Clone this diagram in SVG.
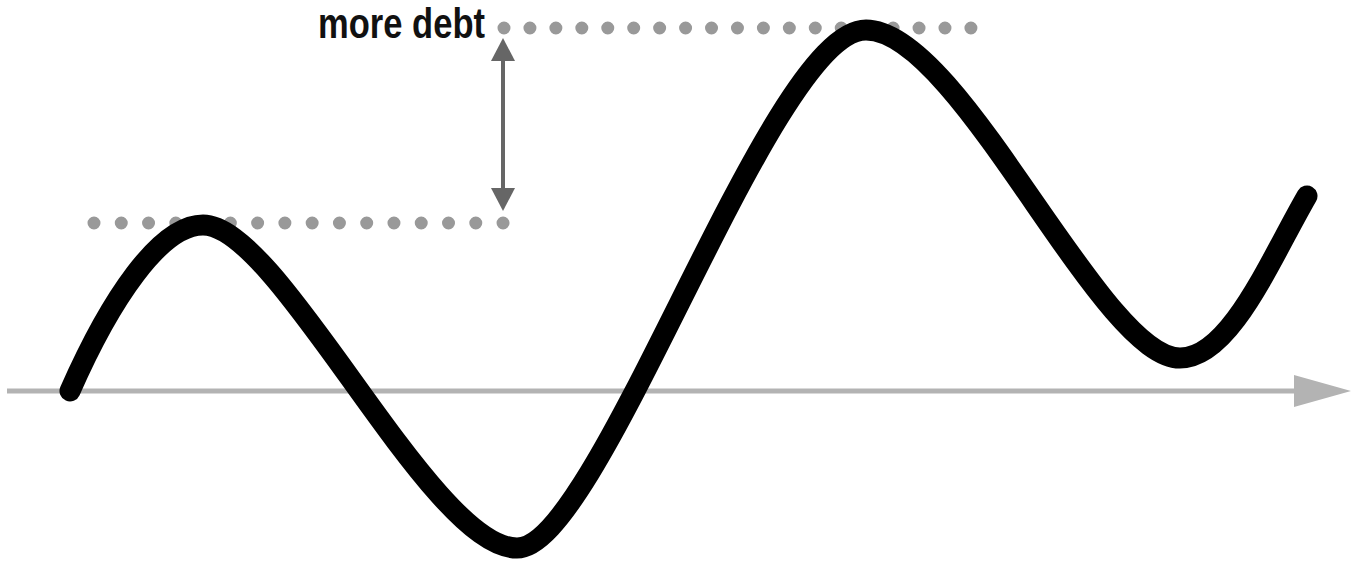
<svg xmlns="http://www.w3.org/2000/svg" width="1357" height="569" viewBox="0 0 1357 569">
<style>
.dots{stroke:#999999;stroke-width:13;stroke-linecap:round;fill:none}
.axis{stroke:#b3b3b3;stroke-width:5;fill:none}
.curve{stroke:#000;stroke-width:21;stroke-linecap:round;fill:none}
.dim{stroke:#666666;stroke-width:4;fill:none}
.lbl{font-family:"Liberation Sans",Arial,sans-serif;font-weight:bold;font-size:42px;fill:#111}
</style>
<g id="axis">
<line class="axis" x1="7" y1="391" x2="1296" y2="391"/>
<polygon points="1294,375 1351,391 1294,407" fill="#b3b3b3"/>
</g>
<g id="levels">
<path class="dots" d="M94,223 L504,223" stroke-dasharray="0 27.27"/>
<path class="dots" d="M504,28 L972,28" stroke-dasharray="0 25.94"/>
</g>
<g id="wave">
<path class="curve" d="M70,391 C110,300 160,225 203,225 C280,225 430,548 517,548 C600,548 770,30 866,30 C960,30 1100,358 1180,358 C1230,358 1270,260 1307,196"/>
</g>
<g id="connectors">
<line class="dim" x1="503" y1="56" x2="503" y2="192"/>
<polygon points="503,38 491,61 515,61" fill="#666666"/>
<polygon points="503,211 491,188 515,188" fill="#666666"/>
</g>
<g id="label">
<text class="lbl" x="318" y="38" textLength="167" lengthAdjust="spacingAndGlyphs">more debt</text>
</g>
</svg>
